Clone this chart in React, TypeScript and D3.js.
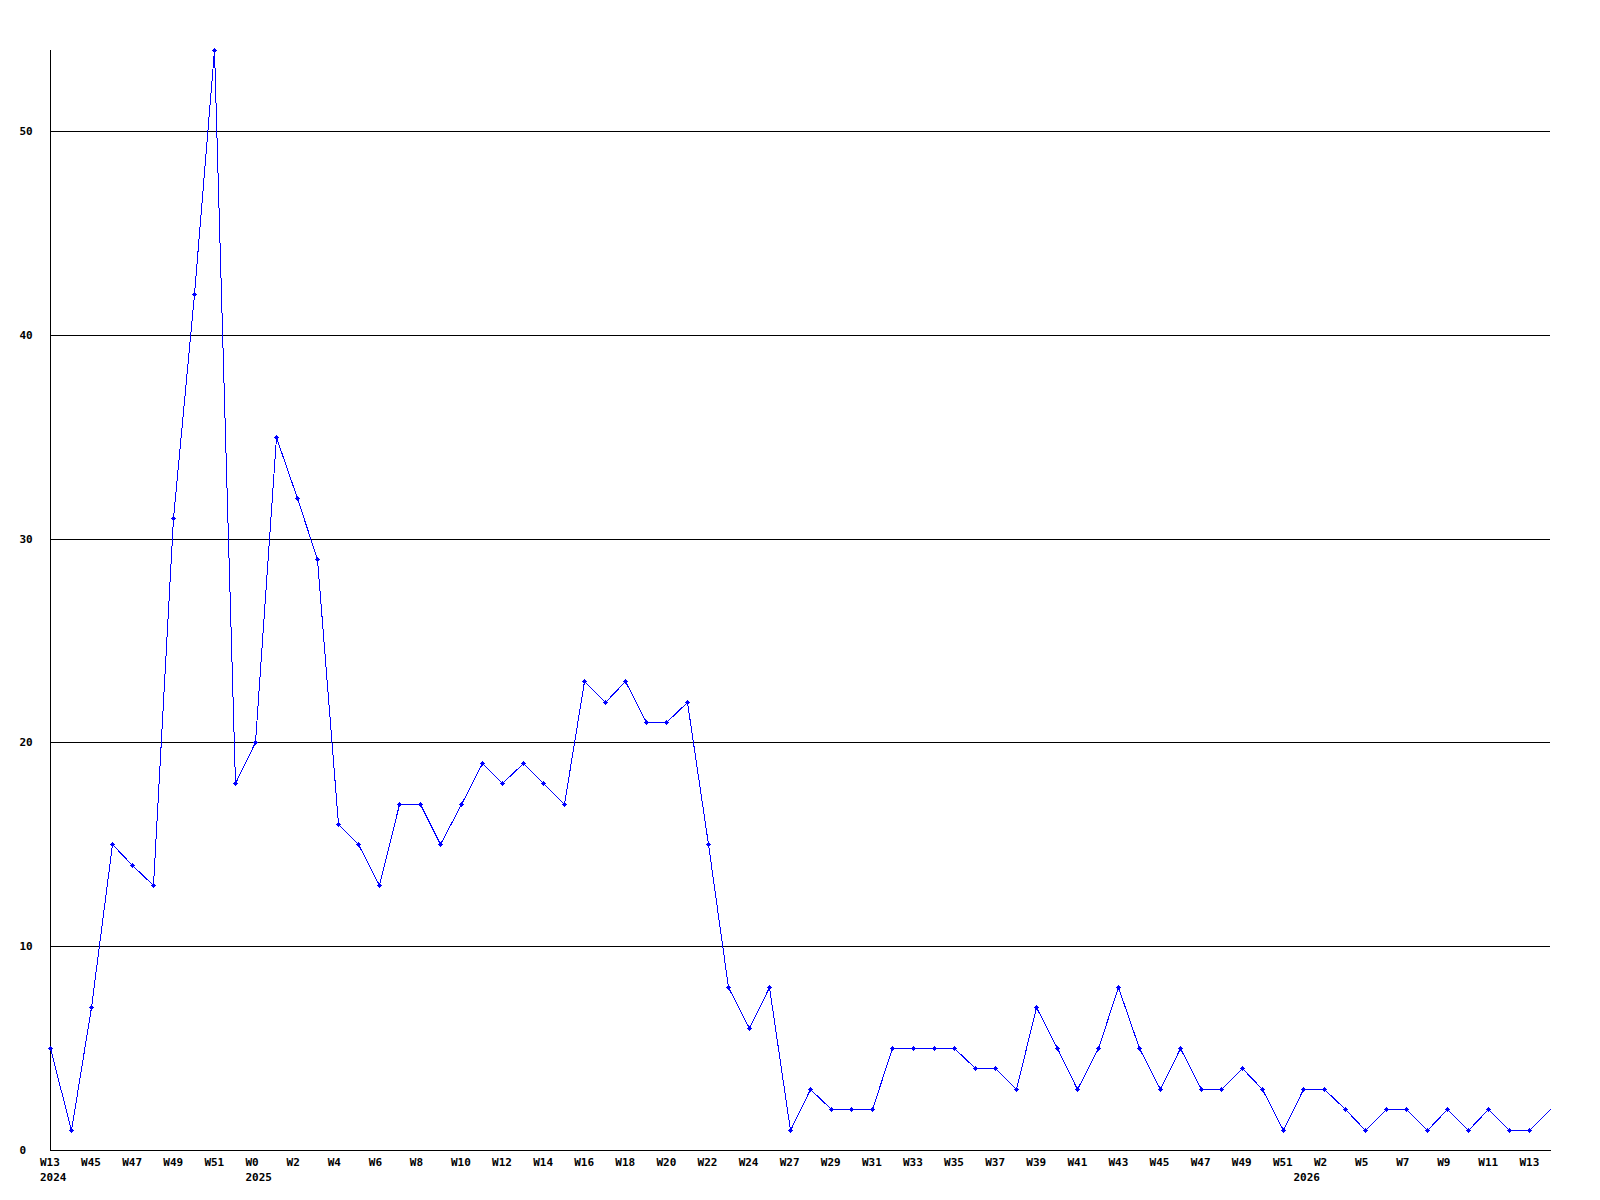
import React from 'react';
import * as d3 from 'd3';

// weekly counts, one per week, oldest first
const counts = [
  5, 1, 7, 15, 14, 13, 31, 42, 54, 18,
  20, 35, 32, 29, 16, 15, 13, 17, 17, 15,
  17, 19, 18, 19, 18, 17, 23, 22, 23, 21,
  21, 22, 15, 8, 6, 8, 1, 3, 2, 2,
  2, 5, 5, 5, 5, 4, 4, 3, 7, 5,
  3, 5, 8, 5, 3, 5, 3, 3, 4, 3,
  1, 3, 3, 2, 1, 2, 2, 1, 2, 1,
  2, 1, 1, 2,
];

// labels shown under every second week
const weekTicks = [
  'W13', 'W45', 'W47', 'W49', 'W51', 'W0', 'W2', 'W4', 'W6', 'W8',
  'W10', 'W12', 'W14', 'W16', 'W18', 'W20', 'W22', 'W24', 'W27', 'W29',
  'W31', 'W33', 'W35', 'W37', 'W39', 'W41', 'W43', 'W45', 'W47', 'W49',
  'W51', 'W2', 'W5', 'W7', 'W9', 'W11', 'W13',
];

const yearNames = ['2024', '2025', '2026'];
const yearStarts = [0, 10, 61];

const yTicks = [0, 10, 20, 30, 40, 50];

export default function App() {
  const width = 1600;
  const height = 1200;
  const left = 50;
  const right = 1550;
  const top = 50;
  const bottom = 1150;

  const x = d3.scaleLinear().domain([0, counts.length - 1]).range([left, right]);
  const y = d3.scaleLinear().domain([0, 54]).range([bottom, 49.5]);

  const line = d3.line<number>()
    .x((d, i) => Math.round(x(i)) + 0.5)
    .y(d => Math.round(y(d)) + 0.5);

  const font = { fontFamily: '"DejaVu Sans Mono", monospace', fontWeight: 'bold' as const, fontSize: '11px' };
  const crisp = (v: number) => Math.round(v) + 0.5;

  return (
    <svg width={width} height={height} style={{ position: 'absolute', left: 0, top: 0, background: '#fff' }}>
      <g shapeRendering="crispEdges" stroke="#000" strokeWidth={1}>
        {yTicks.filter(t => t > 0).map(t => (
          <line key={t} x1={left} x2={right} y1={crisp(y(t))} y2={crisp(y(t))} />
        ))}
        <line x1={crisp(left)} x2={crisp(left)} y1={top} y2={crisp(bottom)} />
        <line x1={left} x2={right + 1} y1={crisp(bottom)} y2={crisp(bottom)} />
      </g>

      {yTicks.map(t => (
        <text key={t} x={19.5} y={Math.round(y(t)) + 4} style={font} fill="#000">{t}</text>
      ))}

      {weekTicks.map((w, k) => (
        <text key={k} x={x(k * 2) - 10} y={1166} style={font} fill="#000">{w}</text>
      ))}
      {yearNames.map((yr, k) => (
        <text key={yr} x={x(yearStarts[k]) - 10} y={1181} style={font} fill="#000">{yr}</text>
      ))}

      <path d={line(counts) || ''} fill="none" stroke="#0000ff" strokeWidth={1} shapeRendering="crispEdges" />

      <g fill="#0000ff" shapeRendering="crispEdges">
        {counts.slice(0, counts.length - 1).map((d, i) => {
          const cx = Math.round(x(i));
          const cy = Math.round(y(d));
          return (
            <g key={i}>
              <rect x={cx - 2} y={cy} width={5} height={1} />
              <rect x={cx} y={cy - 2} width={1} height={5} />
              <rect x={cx - 1} y={cy - 1} width={3} height={3} />
            </g>
          );
        })}
      </g>
    </svg>
  );
}
